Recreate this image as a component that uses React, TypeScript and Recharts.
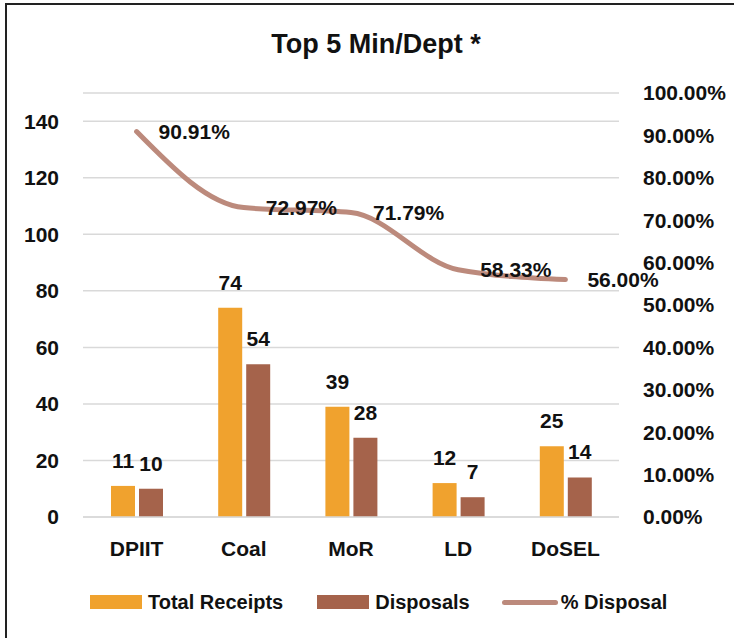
import React from 'react';
import { ComposedChart, Bar, Line, XAxis, YAxis, CartesianGrid, Legend, LabelList } from 'recharts';

const departments = ['DPIIT', 'Coal', 'MoR', 'LD', 'DoSEL'];
const totalReceipts = [11, 74, 39, 12, 25];
const disposals = [10, 54, 28, 7, 14];
const disposalPct = [0.9091, 0.7297, 0.7179, 0.5833, 0.56];
const countTicks = [0, 20, 40, 60, 80, 100, 120, 140];
const pctTicks = [0, 0.1, 0.2, 0.3, 0.4, 0.5, 0.6, 0.7, 0.8, 0.9, 1];
const legendOrder = ['Total Receipts', 'Disposals', '% Disposal'];

const ORANGE = '#F0A22E';
const BROWN = '#A5634B';
const ROSE = '#BC8A7C';
const FONT = '"Liberation Sans", Arial, sans-serif';

const chartData = departments.map((name, i) => ({
    name,
    receipts: totalReceipts[i],
    disposals: disposals[i],
    pct: disposalPct[i],
}));

const pctFormat = (v: number) => (v * 100).toFixed(2) + '%';

const labelStyle = { fill: '#111', fontSize: 21, fontWeight: 'bold' as const };

// legend drawn by hand so swatch sizes match the original
function renderLegend(props: any) {
    const items = [...(props.payload || [])].sort(
        (a: any, b: any) => legendOrder.indexOf(a.value) - legendOrder.indexOf(b.value)
    );
    return (
        <div style={{ display: 'flex', alignItems: 'center', height: 24, paddingLeft: 90, fontSize: 20, fontWeight: 'bold', color: '#111' }}>
            {items.map((item: any, i: number) => (
                <div key={i} style={{ display: 'flex', alignItems: 'center', marginRight: i === 0 ? 34 : 32 }}>
                    {item.type === 'line' ? (
                        <div style={{ width: 56, height: 5, borderRadius: 3, background: ROSE, marginRight: 3 }} />
                    ) : (
                        <div style={{ width: 52, height: 14, background: item.color, marginRight: 6 }} />
                    )}
                    <span>{item.value}</span>
                </div>
            ))}
        </div>
    );
}

export default function App() {
    return (
        <div style={{ position: 'absolute', left: 0, top: 0, width: 734, height: 638, overflow: 'hidden', background: '#fff', fontFamily: FONT }}>
            <div style={{ position: 'absolute', left: 5, top: 3, width: 780, height: 700, border: '2px solid #222' }} />
            <svg style={{ position: 'absolute', left: 0, top: 0 }} width={734} height={80}>
                <text x={376} y={53} textAnchor="middle" fontSize={27} fontWeight="bold" fill="#111" fontFamily={FONT}>
                    Top 5 Min/Dept *
                </text>
            </svg>
            <div style={{ position: 'absolute', left: 0, top: 0 }}>
                <ComposedChart width={734} height={638} data={chartData} margin={{ top: 93, right: 0, bottom: 24, left: 0 }}>
                    <CartesianGrid yAxisId="left" vertical={false} stroke="#d9d9d9" strokeWidth={1.5} />
                    <XAxis
                        dataKey="name"
                        height={73}
                        tickLine={false}
                        axisLine={{ stroke: '#d9d9d9', strokeWidth: 1.5 }}
                        tickMargin={18}
                        tick={labelStyle}
                    />
                    <YAxis
                        yAxisId="left"
                        width={83}
                        domain={[0, 150]}
                        ticks={countTicks}
                        axisLine={false}
                        tickLine={false}
                        tickMargin={18}
                        tick={labelStyle}
                    />
                    <YAxis
                        yAxisId="right"
                        orientation="right"
                        width={115}
                        domain={[0, 1]}
                        ticks={pctTicks}
                        tickFormatter={pctFormat}
                        axisLine={false}
                        tickLine={false}
                        tickMargin={18}
                        tick={labelStyle}
                    />
                    <Bar yAxisId="left" dataKey="receipts" name="Total Receipts" fill={ORANGE} barSize={24} isAnimationActive={false}>
                        <LabelList dataKey="receipts" position="top" offset={18} style={labelStyle} />
                    </Bar>
                    <Bar yAxisId="left" dataKey="disposals" name="Disposals" fill={BROWN} barSize={24} isAnimationActive={false}>
                        <LabelList dataKey="disposals" position="top" offset={18} style={labelStyle} />
                    </Bar>
                    <Line
                        yAxisId="right"
                        type="monotone"
                        dataKey="pct"
                        name="% Disposal"
                        stroke={ROSE}
                        strokeWidth={5}
                        strokeLinecap="round"
                        dot={false}
                        legendType="line"
                        isAnimationActive={false}
                    >
                        <LabelList dataKey="pct" position="right" offset={22} formatter={(v: any) => pctFormat(Number(v))} style={labelStyle} />
                    </Line>
                    <Legend verticalAlign="bottom" content={renderLegend} />
                </ComposedChart>
            </div>
        </div>
    );
}
